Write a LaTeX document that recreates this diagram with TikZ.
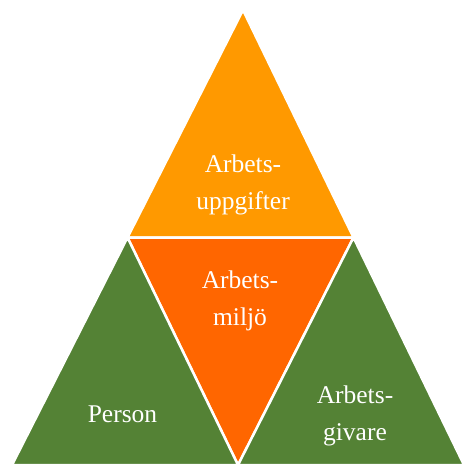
\documentclass[tikz,border=0pt]{standalone}
\usepackage{fontspec}
\setmainfont{Liberation Serif}
\usepackage{tikz}
\usetikzlibrary{calc}
\definecolor{topor}{HTML}{FF9900}
\definecolor{midor}{HTML}{FF6600}
\definecolor{grn}{HTML}{548235}
\tikzstyle{piece}=[draw=white,line width=2.5pt,line join=miter]
\tikzstyle{lbl}=[text=white,align=center,inner sep=0pt,font=\fontsize{25.5}{37}\selectfont]

\begin{document}
\begin{tikzpicture}[x=1pt,y=-1pt]

 \useasboundingbox (0,0) rectangle (465,465);

 %corners of the big triangle
 \coordinate (apex) at (243,10);
 \coordinate (bl) at (12,465);
 \coordinate (br) at (464,465);
 \coordinate (ml) at ($(apex)!0.5!(bl)$);
 \coordinate (mr) at ($(apex)!0.5!(br)$);
 \coordinate (mb) at ($(bl)!0.5!(br)$);

 %the four parts
 \foreach \a/\b/\c/\col in {ml/apex/mr/topor, ml/mr/mb/midor, bl/ml/mb/grn, mb/mr/br/grn}
        \path[piece, fill=\col] (\a) -- (\b) -- (\c) -- cycle;

 %labels
 \node[lbl] (uppgifter) at (243,184.6) {Arbets-\\uppgifter};
 \node[lbl] (miljo) at (240,300.6) {Arbets-\\miljö};
 \node[lbl] (person) at (122.5,414.6) {Person};
 \node[lbl] (givare) at (355,415.6) {Arbets-\\givare};

\end{tikzpicture}
\end{document}
